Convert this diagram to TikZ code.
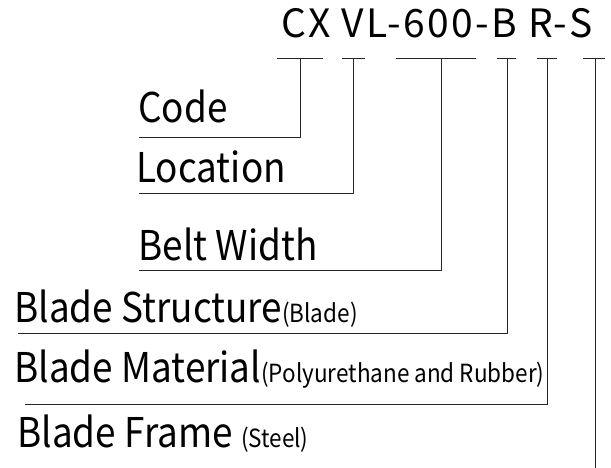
\documentclass[tikz,border=0pt]{standalone}
\usepackage{fontspec}
\setmainfont{Noto Sans CJK SC}[FakeStretch=0.9]
\newfontfamily\titlefont{Noto Sans CJK SC}[LetterSpace=6]
\usetikzlibrary{positioning}
\newcommand{\subtxt}[1]{{\fontsize{25}{25}\selectfont #1}}

\begin{document}
\begin{tikzpicture}[x=1pt, y=-1pt, line width=0.8pt, draw=black!85,
	lbl/.style={anchor=base west, inner sep=0pt, font=\fontsize{41}{41}\selectfont},
	code/.style={lbl, font=\titlefont\fontsize{39}{39}\selectfont}]
	\useasboundingbox (0,0) rectangle (611,468);
	\node[code] (m) at (281,38) {CX VL-600-B R-S};
	% ticks under the code
	\foreach \n/\c/\a/\b in {1/300/277/323, 2/353/342/365, 3/441/396/476, 4/507/497/516, 5/547/537/557, 6/595/583/605}
	{
		\coordinate (t\n) at (\c,58);
		\draw (\a,58) -- (\b,58);
	}
	% labels
	\node[lbl] (code) at (138,123) {Code};
	\node[lbl] (loc) at (136,183) {Location};
	\node[lbl] (width) at (138,260) {Belt Width};
	\node[lbl] (struct) at (14,322) {Blade Structure\subtxt{(Blade)}};
	\node[lbl] (mat) at (14,382) {Blade Material\subtxt{(Polyurethane and Rubber)}};
	\node[lbl] (frame) at (17,447) {Blade Frame \subtxt{(Steel)}};
	\coordinate (u1) at (139,137);
	\coordinate (u2) at (139,193);
	\coordinate (u3) at (139,270);
	\coordinate (u4) at (18,333);
	\coordinate (u5) at (25,404);
	\coordinate (u6) at (595,468);
	\draw (t1) |- (u1);
	\draw (t2) |- (u2);
	\draw (t3) |- (u3);
	\draw (t4) |- (u4);
	\draw (t5) |- (u5);
	\draw (t6) -- (u6);
\end{tikzpicture}
\end{document}
